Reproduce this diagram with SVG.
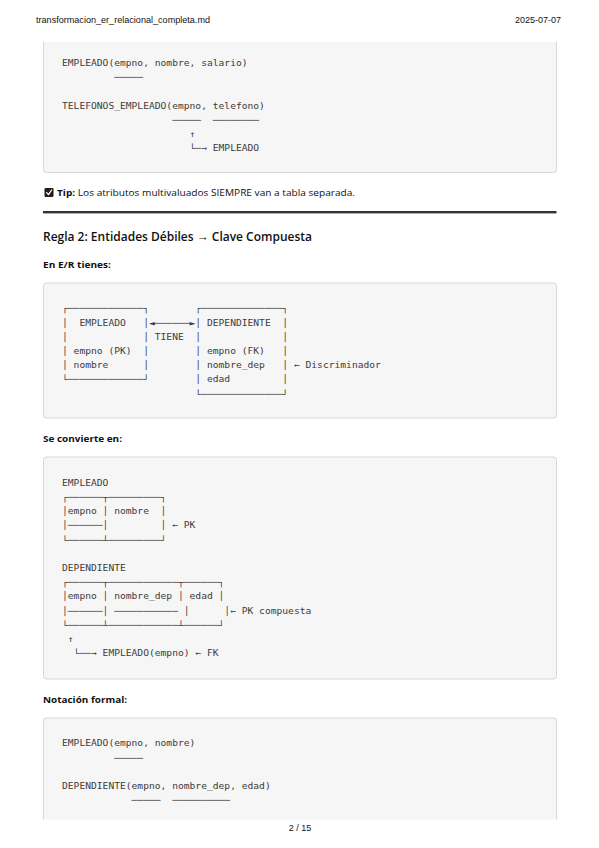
<svg xmlns="http://www.w3.org/2000/svg" width="599" height="848" viewBox="0 0 599 848" xml:space="preserve">
<style>
.pg{font-family:"Liberation Sans",Arial,sans-serif;font-size:9px;fill:#111}
.blk{fill:#f6f6f6;stroke:#d9d9d9;stroke-width:1}
.edge{fill:none;stroke:#d9d9d9;stroke-width:1}
.m{font-family:"DejaVu Sans Mono",monospace;font-size:8.6px;fill:#3c3c3c;white-space:pre}
.h2{font-family:"Open Sans","Noto Sans",sans-serif;font-size:12.5px;font-weight:600;fill:#111}
.h4{font-family:"Open Sans","Noto Sans",sans-serif;font-size:9px;font-weight:700;fill:#111}
.p{font-family:"Open Sans","Noto Sans",sans-serif;font-size:8.6px;fill:#111}
</style>

<g id="header">
<text class="pg" x="36" y="23" textLength="174" lengthAdjust="spacingAndGlyphs">transformacion_er_relacional_completa.md</text>
<text class="pg" x="561" y="23" text-anchor="end">2025-07-07</text>
</g>

<!-- Code block 1 (continued from previous page) -->
<g id="block1">
<rect x="43.5" y="42" width="513" height="130.5" fill="#f6f6f6"/>
<path class="edge" d="M43.5,42 V169.5 A3,3 0 0 0 46.5,172.5 H553.5 A3,3 0 0 0 556.5,169.5 V42"/>
<g transform="scale(1.121 1)">
<text class="m" x="55.31" y="66">EMPLEADO(empno, nombre, salario)</text>
<text class="m" x="55.31" y="80.2">         ─────</text>
<text class="m" x="55.31" y="108.6">TELEFONOS_EMPLEADO(empno, telefono)</text>
<text class="m" x="55.31" y="122.8">                   ─────  ────────</text>
<text class="m" x="55.31" y="137">                      ↑</text>
<text class="m" x="55.31" y="151.2">                      └─→ EMPLEADO</text>
</g>
</g>

<g id="tip">
<rect x="44.5" y="188" width="9" height="9" rx="1.2" fill="#1e1e1e"/>
<path d="M46.6,192.6 L48.5,194.6 L51.6,190" fill="none" stroke="#fff" stroke-width="1.3" stroke-linecap="round" stroke-linejoin="round"/>
<text class="p" x="57" y="196" textLength="298" lengthAdjust="spacingAndGlyphs"><tspan font-weight="700">Tip:</tspan> Los atributos multivaluados SIEMPRE van a tabla separada.</text>
</g>

<rect id="hr" x="43" y="211" width="513.5" height="2.4" fill="#333"/>

<text id="h-regla2" class="h2" x="43" y="240.5" textLength="269" lengthAdjust="spacingAndGlyphs">Regla 2: Entidades Débiles → Clave Compuesta</text>

<text id="h-er" class="h4" x="43" y="268" textLength="68" lengthAdjust="spacingAndGlyphs">En E/R tienes:</text>

<!-- Code block 2 -->
<g id="block2">
<rect class="blk" x="43.5" y="283" width="513" height="135" rx="3"/>
<g transform="scale(1.121 1)">
<text class="m" x="55.31" y="311.5">┌─────────────┐        ┌──────────────┐</text>
<text class="m" x="55.31" y="325.7">│  EMPLEADO   │◄──────►│ DEPENDIENTE  │</text>
<text class="m" x="55.31" y="339.9">│             │ TIENE  │              │</text>
<text class="m" x="55.31" y="354.1">│ empno (PK)  │        │ empno (FK)   │</text>
<text class="m" x="55.31" y="368.3">│ nombre      │        │ nombre_dep   │ ← Discriminador</text>
<text class="m" x="55.31" y="382.5">└─────────────┘        │ edad         │</text>
<text class="m" x="55.31" y="396.7">                       └──────────────┘</text>
</g>
</g>

<text id="h-conv" class="h4" x="43" y="442" textLength="79" lengthAdjust="spacingAndGlyphs">Se convierte en:</text>

<!-- Code block 3 -->
<g id="block3">
<rect class="blk" x="43.5" y="457" width="513" height="222" rx="3"/>
<g transform="scale(1.121 1)">
<text class="m" x="55.31" y="485.8">EMPLEADO</text>
<text class="m" x="55.31" y="500">┌──────┬─────────┐</text>
<text class="m" x="55.31" y="514.2">│empno │ nombre  │</text>
<text class="m" x="55.31" y="528.4">│──────│         │ ← PK</text>
<text class="m" x="55.31" y="542.6">└──────┴─────────┘</text>
<text class="m" x="55.31" y="571">DEPENDIENTE</text>
<text class="m" x="55.31" y="585.2">┌──────┬────────────┬──────┐</text>
<text class="m" x="55.31" y="599.4">│empno │ nombre_dep │ edad │</text>
<text class="m" x="55.31" y="613.6">│──────│ ─────────── │      │← PK compuesta</text>
<text class="m" x="55.31" y="627.8">└──────┴────────────┴──────┘</text>
<text class="m" x="55.31" y="642"> ↑</text>
<text class="m" x="55.31" y="656.2">  └──→ EMPLEADO(empno) ← FK</text>
</g>
</g>

<text id="h-formal" class="h4" x="43" y="703" textLength="84" lengthAdjust="spacingAndGlyphs">Notación formal:</text>

<!-- Code block 4 (continues on next page) -->
<g id="block4">
<rect x="43.5" y="718" width="513" height="101.5" fill="#f6f6f6"/>
<path class="edge" d="M43.5,819.5 V721 A3,3 0 0 1 46.5,718 H553.5 A3,3 0 0 1 556.5,721 V819.5"/>
<g transform="scale(1.121 1)">
<text class="m" x="55.31" y="746.5">EMPLEADO(empno, nombre)</text>
<text class="m" x="55.31" y="760.7">         ─────</text>
<text class="m" x="55.31" y="789.1">DEPENDIENTE(empno, nombre_dep, edad)</text>
<text class="m" x="55.31" y="803.3">            ─────  ──────────</text>
</g>
</g>

<text id="pagenum" class="pg" x="300" y="831" text-anchor="middle">2 / 15</text>
</svg>
